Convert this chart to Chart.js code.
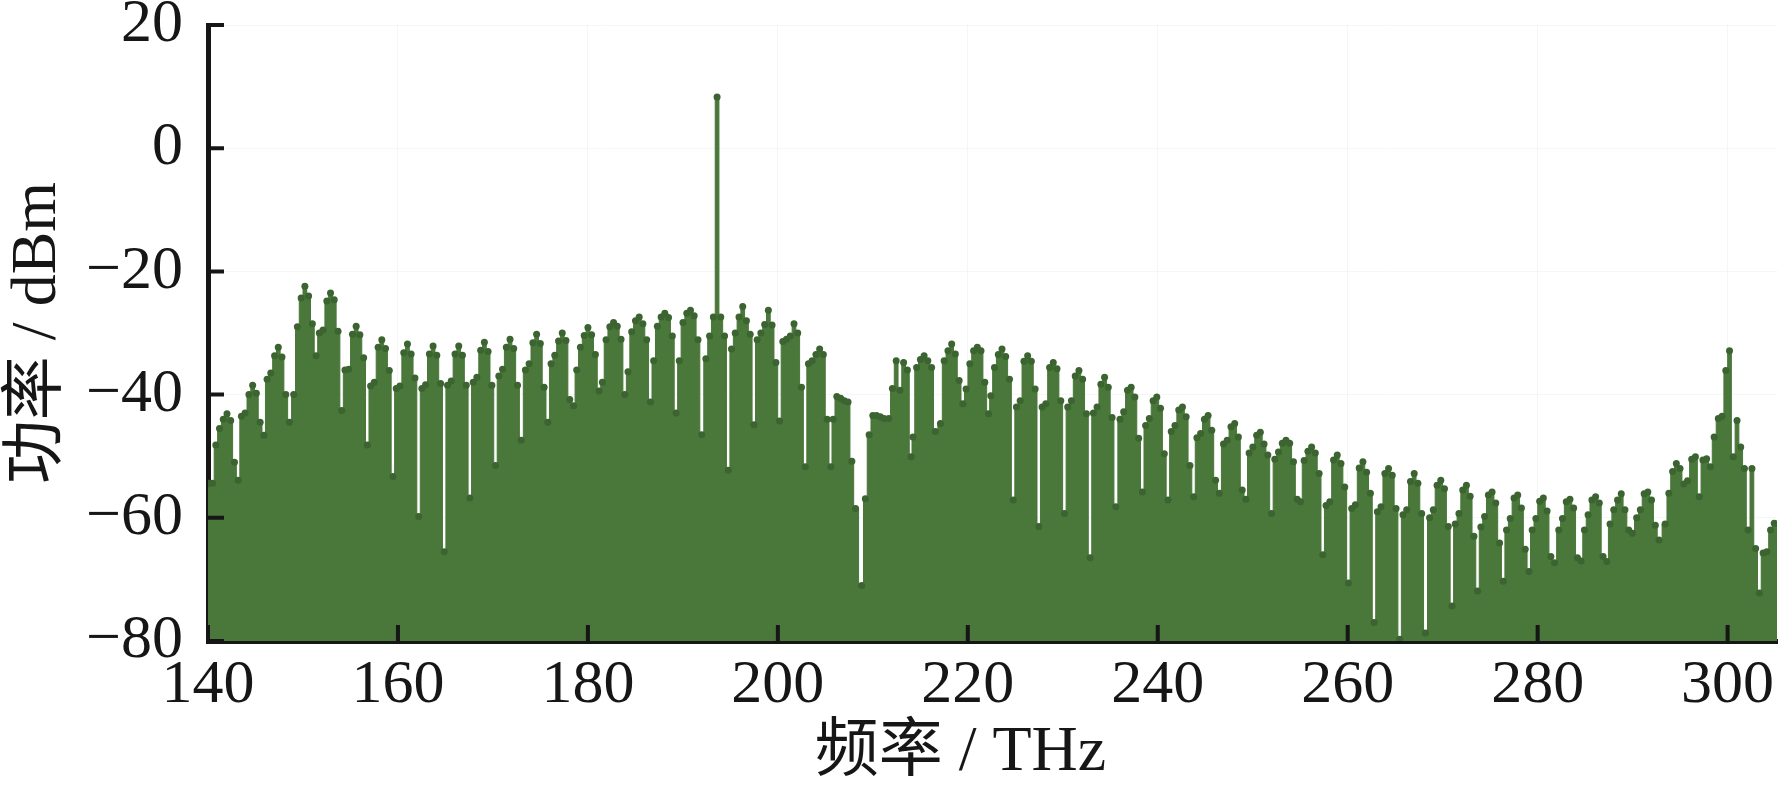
<!DOCTYPE html>
<html lang="zh">
<head>
  <meta charset="UTF-8">
  <title>光频梳功率谱</title>
  <script src="https://cdn.jsdelivr.net/npm/chart.js"></script>
  <style>
    html, body {
      margin: 0;
      padding: 0;
      background: #fff;
    }
  </style>
</head>
<body>
  <canvas id="grafica" width="1781" height="794"></canvas>

  <script>
    // 梳齿中心频率 (THz)
    const toothTHz = [
      139.3, 142.0, 144.7, 147.4, 150.2, 152.9, 155.6, 158.3, 161.0, 163.7,
      166.4, 169.1, 171.8, 174.6, 177.3, 180.0, 182.7, 185.4, 188.1, 190.8,
      193.6, 196.3, 199.0, 201.7, 204.4, 207.0, 210.0, 212.85, 215.4, 218.3,
      221.0, 223.6, 226.3, 229.0, 231.7, 234.4, 237.2, 239.9, 242.6, 245.3,
      248.1, 250.8, 253.5, 256.2, 258.9, 261.6, 264.3, 267.0, 269.8, 272.5,
      275.2, 277.9, 280.6, 283.4, 286.1, 288.8, 291.6, 294.6, 297.4, 300.2,
      302.95, 305.7
    ];

    // 每个梳齿内各采样点相对中心的频率偏移 (THz)
    const stemOffsetTHz = [-1.18, -0.79, -0.39, 0, 0.39, 0.79, 1.18];

    // 各采样点功率 (dBm)，按梳齿排列
    const stepL3 = [
      -60, -48.2, -43.5, -37.5, -40, -30, -36, -38.6, -39, -39,
      -38.5, -38, -37, -36, -35, -36, -38, -36.3, -34.5, -34.5,
      -34.2, -32.6, -31.1, -31.4, -35, -44, -71, -43.9, -46.9, -44.7,
      -39.1, -40.2, -42, -42, -42, -43, -44, -45, -46, -47,
      -48, -49.5, -50.5, -57.4, -58, -58.5, -59, -59.5, -60, -61,
      -61.5, -62, -62, -62, -62, -61, -60, -61, -50.5, -43.9,
      -52, -62
    ];
    const stepL2 = [
      -58, -45.5, -43, -36.5, -29, -29.5, -35.9, -38, -38.6, -38.4,
      -37.8, -37.2, -35.9, -35, -33.6, -32.3, -31.1, -29.8, -28.9, -28.3,
      -30.5, -30, -30, -31, -34.5, -40.3, -56.9, -39, -35.6, -34.5,
      -35, -35.6, -41, -41.5, -41, -42, -42.8, -43.9, -45, -46.3,
      -47.4, -48.5, -49.3, -50.7, -57.4, -57.9, -58.2, -58.7, -58.7, -59.3,
      -59.8, -60.1, -60.1, -60.1, -59.5, -58.7, -58.7, -56, -50.1, -43.5,
      -62, -60.9
    ];
    const stepL1 = [
      -56, -44, -40, -33.7, -24.3, -24.8, -30.2, -32.3, -33.2, -33.4,
      -33.4, -32.8, -32.3, -31.6, -31.3, -30.4, -29, -28, -27.4, -26.8,
      -27.4, -27.4, -28.6, -30.5, -33.5, -40.6, -46.5, -34.5, -34.3, -32.9,
      -32.9, -33.5, -34.6, -35.6, -37, -38.3, -39.3, -41, -42.5, -44,
      -45.2, -46.6, -47.9, -49.2, -50.6, -51.9, -52.8, -54.1, -54.7, -55.5,
      -56.3, -56.8, -57.3, -57.4, -57.1, -57.1, -56.1, -52.5, -56.6, -36.1,
      -52, -61
    ];
    const peak = [
      -55, -43.1, -38.5, -32.3, -22.4, -23.5, -28.9, -31.1, -31.8, -32.1,
      -32.1, -31.5, -31, -30.2, -30, -29.1, -28.3, -27.4, -26.8, -26.3,
      8.3, -25.7, -26.3, -28.5, -32.6, -41, -43.4, -39.3, -33.7, -31.8,
      -32.3, -32.6, -33.7, -34.8, -36.1, -37.2, -38.8, -40.4, -42, -43.4,
      -44.7, -46.1, -47.4, -48.5, -49.8, -50.9, -52, -52.8, -53.9, -54.7,
      -55.8, -56.3, -56.8, -57, -56.6, -56.1, -55.8, -51.2, -50.6, -32.9,
      -65, -62
    ];
    const stepR1 = [
      -55, -44.2, -39.8, -33.9, -24, -24.6, -30.3, -32.5, -33.4, -33.6,
      -33.6, -33, -32.5, -31.7, -31.2, -30.3, -28.9, -28.5, -27.5, -27.2,
      -27.4, -28, -28.7, -30, -33.5, -41.2, -43.4, -34.8, -34.5, -33.4,
      -32.9, -33.8, -34.6, -35.8, -37.5, -38.8, -40.4, -42.2, -43.6, -45.8,
      -46.9, -48, -47.9, -49.5, -51.2, -52.6, -53.1, -54.4, -55.3, -56.5,
      -57.6, -58.4, -58.9, -58.4, -57.6, -58.7, -57.1, -52, -50.4, -50.1,
      -72.2, -62
    ];
    const stepR2 = [
      -54.4, -51, -44.5, -40, -28.5, -29.7, -34, -36.1, -37.3, -38.2,
      -38.5, -38.5, -38.5, -38.8, -40.8, -33.5, -31, -31.1, -30.5, -31.1,
      -30.5, -30.2, -34.8, -38.8, -44, -50.8, -43.6, -36, -35.6, -37.7,
      -38, -37.5, -39.1, -41, -43.1, -43.7, -47.1, -49.6, -51.5, -53.9,
      -55.5, -49.8, -50.9, -52.8, -55, -56, -58.5, -59.3, -61.4, -63,
      -64.1, -65.1, -66.3, -66.5, -66.3, -62, -61.2, -54.5, -51.7, -44.2,
      -65.7, -62
    ];
    const notch = [
      -54.4, -53.9, -46.6, -44.5, -33.7, -42.6, -48.2, -53.3, -59.8, -65.5,
      -56.8, -51.5, -47.4, -44.5, -41.8, -39.4, -40, -41.2, -43, -46.5,
      -52.3, -44.9, -44.3, -51.7, -51.7, -58.5, -43.9, -50.1, -46, -41.5,
      -43.1, -57.1, -61.4, -59.3, -66.5, -58.2, -55.8, -57.1, -56.6, -56,
      -57, -59.3, -57, -66, -70.6, -77, -79.7, -78.7, -74.3, -71.9,
      -70.3, -68.7, -67.3, -67, -67.1, -62.5, -63.6, -54, -46.9, -48.5,
      -65.5, -62
    ];

    const xTicks = [140, 160, 180, 200, 220, 240, 260, 280, 300];
    const yTicks = [20, 0, -20, -40, -60, -80];

    // 组装频谱点
    const stemLevels = [stepL3, stepL2, stepL1, peak, stepR1, stepR2, notch];
    const spectrum = [];
    toothTHz.forEach((fc, i) => {
      stemOffsetTHz.forEach((d, k) => {
        spectrum.push({ x: +(fc + d).toFixed(3), y: stemLevels[k][i] });
      });
    });

    const ink = '#161616';
    const green = '#4a773a';
    const fontFam = "'Liberation Serif', 'Noto Sans CJK SC', serif";

    // 向内的刻度线
    const inwardTicks = {
      id: 'inwardTicks',
      afterDraw(chart) {
        const { ctx, chartArea: a, scales: { x, y } } = chart;
        ctx.save();
        ctx.strokeStyle = ink;
        ctx.lineWidth = 4;
        ctx.beginPath();
        xTicks.forEach(v => {
          const px = x.getPixelForValue(v);
          ctx.moveTo(px, a.bottom);
          ctx.lineTo(px, a.bottom - 16);
        });
        yTicks.forEach(v => {
          const py = y.getPixelForValue(v);
          ctx.moveTo(a.left, py);
          ctx.lineTo(a.left + 16, py);
        });
        ctx.stroke();
        ctx.restore();
      }
    };

    const ctx = document.getElementById('grafica').getContext('2d');
    new Chart(ctx, {
      type: 'line',
      data: {
        datasets: [
          {
            data: spectrum,
            showLine: false,
            pointRadius: 3.5,
            pointBackgroundColor: '#3b6430',
            pointBorderWidth: 0,
            order: 0
          },
          {
            data: spectrum,
            stepped: 'middle',
            fill: 'start',
            backgroundColor: green,
            borderColor: green,
            borderWidth: 1,
            pointRadius: 0,
            clip: 0,
            order: 1
          }
        ]
      },
      options: {
        responsive: false,
        animation: false,
        devicePixelRatio: 1,
        layout: { padding: { top: 25, right: 0, bottom: 0, left: 0 } },
        plugins: {
          legend: { display: false },
          tooltip: { enabled: false }
        },
        scales: {
          x: {
            type: 'linear',
            min: 140,
            max: 305.2,
            afterBuildTicks: s => { s.ticks = xTicks.map(v => ({ value: v })); },
            afterFit: s => { s.height = 153; s.paddingLeft = 0; s.paddingRight = 0; },
            grid: { color: 'rgba(0,0,0,0.035)', drawTicks: false },
            border: { color: ink, width: 5 },
            ticks: {
              font: { family: fontFam, size: 62 },
              color: ink,
              padding: 8,
              maxRotation: 0,
              autoSkip: false
            },
            title: {
              display: true,
              // 末尾的全角空格让标题整体略向左
              text: '频率 / THz\u2003',
              font: { family: fontFam, size: 64 },
              color: ink,
              padding: { top: 0, bottom: 2 }
            }
          },
          y: {
            min: -80,
            max: 20,
            afterBuildTicks: s => { s.ticks = yTicks.map(v => ({ value: v })); },
            afterFit: s => { s.width = 208; s.paddingTop = 0; s.paddingBottom = 0; },
            grid: { color: 'rgba(0,0,0,0.035)', drawTicks: false },
            border: { color: ink, width: 5 },
            ticks: {
              font: { family: fontFam, size: 62 },
              color: ink,
              padding: 25,
              callback: v => (v < 0 ? '\u2212' + (-v) : String(v))
            },
            title: {
              display: true,
              text: '功率 / dBm',
              font: { family: fontFam, size: 64 },
              color: ink,
              padding: 0
            }
          }
        }
      },
      plugins: [inwardTicks]
    });
  </script>
</body>
</html>
